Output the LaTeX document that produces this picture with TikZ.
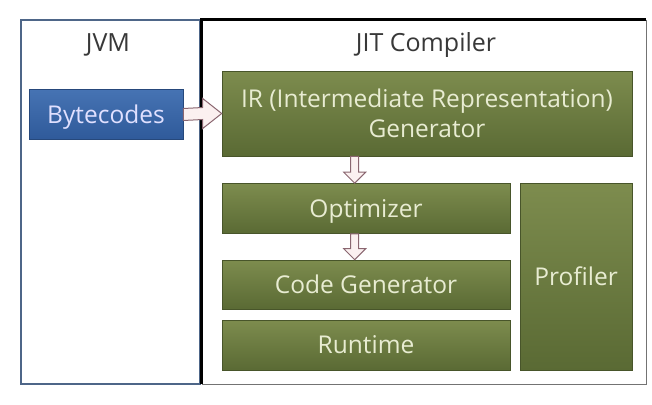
\documentclass[tikz,border=0pt]{standalone}
\usepackage{fontspec}
\setmainfont{Open Sans}
\usetikzlibrary{calc}
\definecolor{gtop}{HTML}{7D8C4E}
\definecolor{gbot}{HTML}{5A6A34}
\definecolor{gtxt}{HTML}{E8ECD2}
\definecolor{btop}{HTML}{4673B3}
\definecolor{bbot}{HTML}{2F5A9A}
\definecolor{arrline}{HTML}{8A6670}
\definecolor{arrfill}{HTML}{FBF0F0}
\definecolor{jvmline}{HTML}{4E6688}
\tikzset{
  x=1pt,y=-1pt,
  greenbox/.style={draw=gbot!80!black, line width=0.6pt, top color=gtop, bottom color=gbot, text=gtxt, font=\fontsize{24.5}{30}\selectfont, align=center, inner sep=0pt, text depth=0pt},
  bluebox/.style={draw=bbot!80!black, line width=0.6pt, top color=btop, bottom color=bbot, text=white!88!blue, font=\fontsize{24.5}{30}\selectfont, inner sep=0pt, text depth=0pt},
  blockarrow/.style={draw=arrline, fill=arrfill, line width=1pt, line join=miter},
  title/.style={font=\fontsize{25}{30}\selectfont, text=black!78},
}
\begin{document}
\begin{tikzpicture}
\useasboundingbox[fill=white] (0,0) rectangle (652,404);
% frames
\node[draw=jvmline, line width=1.6pt, minimum width=179pt, minimum height=364pt, inner sep=0pt] (jvm) at (110.5,202) {};
\node[draw=black!55, line width=0.9pt, minimum width=444pt, minimum height=364pt, inner sep=0pt] (jit) at (424,202) {};
\draw[black, line width=3pt] (jit.south west) -- (jit.north west) -- (jit.north east);
% titles
\node[title] (jvmt) at (108,45) {JVM};
\node[title] (jitt) at (426,45) {JIT Compiler};
% boxes
\node[bluebox, minimum width=154pt, minimum height=50pt] (byte) at (106,114.5) {Bytecodes};
\node[greenbox, minimum width=410pt, minimum height=85pt] (ir) at (427,113.5) {IR (Intermediate Representation)\\Generator};
\node[greenbox, minimum width=288pt, minimum height=50pt] (opt) at (366,208.5) {Optimizer};
\node[greenbox, minimum width=288pt, minimum height=49pt] (cg) at (366,284.5) {Code Generator};
\node[greenbox, minimum width=288pt, minimum height=50pt] (rt) at (366,345) {Runtime};
\node[greenbox, minimum width=112pt, minimum height=187pt] (prof) at (576,276.5) {Profiler};
% arrows
\draw[blockarrow] ($(byte.east)+(0,-6)$) -- ($(ir.west)+(-19,-6)$) -- ($(ir.west)+(-19,-15)$) -- (ir.west) -- ($(ir.west)+(-19,15)$) -- ($(ir.west)+(-19,6)$) -- ($(byte.east)+(0,6)$) -- cycle;
\coordinate (a1s) at ($(ir.south west)!0.324!(ir.south east)$);
\coordinate (a1e) at (a1s |- opt.north);
\draw[blockarrow] ($(a1s)+(-4,0)$) -- ($(a1e)+(-4,-11)$) -- ($(a1e)+(-11,-11)$) -- (a1e) -- ($(a1e)+(11,-11)$) -- ($(a1e)+(4,-11)$) -- ($(a1s)+(4,0)$) -- cycle;
\coordinate (a2s) at (a1s |- opt.south);
\coordinate (a2e) at (a1s |- cg.north);
\draw[blockarrow] ($(a2s)+(-4,0)$) -- ($(a2e)+(-4,-11)$) -- ($(a2e)+(-11,-11)$) -- (a2e) -- ($(a2e)+(11,-11)$) -- ($(a2e)+(4,-11)$) -- ($(a2s)+(4,0)$) -- cycle;
\end{tikzpicture}
\end{document}
